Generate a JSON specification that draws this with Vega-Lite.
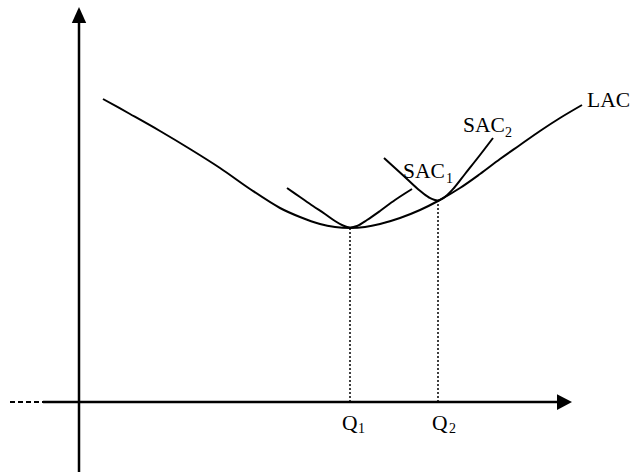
{
  "$schema": "https://vega.github.io/schema/vega-lite/v6.json",
  "width": 631,
  "height": 472,
  "padding": 0,
  "autosize": {"type": "none"},
  "background": "white",
  "config": {"view": {"stroke": null}},
  "datasets": {
    "curves": [
      {"curve": "LAC", "x": 24, "y": 303}, {"curve": "LAC", "x": 51, "y": 288}, {"curve": "LAC", "x": 81, "y": 271},
      {"curve": "LAC", "x": 111, "y": 253}, {"curve": "LAC", "x": 141, "y": 234}, {"curve": "LAC", "x": 171, "y": 213},
      {"curve": "LAC", "x": 201, "y": 194}, {"curve": "LAC", "x": 221, "y": 185}, {"curve": "LAC", "x": 241, "y": 178},
      {"curve": "LAC", "x": 256, "y": 175}, {"curve": "LAC", "x": 271, "y": 174}, {"curve": "LAC", "x": 286, "y": 175},
      {"curve": "LAC", "x": 301, "y": 178}, {"curve": "LAC", "x": 321, "y": 184}, {"curve": "LAC", "x": 341, "y": 192},
      {"curve": "LAC", "x": 359, "y": 201}, {"curve": "LAC", "x": 381, "y": 214}, {"curve": "LAC", "x": 401, "y": 228},
      {"curve": "LAC", "x": 421, "y": 243}, {"curve": "LAC", "x": 441, "y": 257}, {"curve": "LAC", "x": 461, "y": 271},
      {"curve": "LAC", "x": 481, "y": 284}, {"curve": "LAC", "x": 503, "y": 297},
      {"curve": "SAC1", "x": 208, "y": 214}, {"curve": "SAC1", "x": 221, "y": 205}, {"curve": "SAC1", "x": 234, "y": 196},
      {"curve": "SAC1", "x": 246, "y": 188}, {"curve": "SAC1", "x": 256, "y": 181}, {"curve": "SAC1", "x": 264, "y": 176.5},
      {"curve": "SAC1", "x": 271, "y": 174.5}, {"curve": "SAC1", "x": 278, "y": 176}, {"curve": "SAC1", "x": 288, "y": 182},
      {"curve": "SAC1", "x": 301, "y": 191}, {"curve": "SAC1", "x": 316, "y": 202}, {"curve": "SAC1", "x": 333, "y": 213},
      {"curve": "SAC2", "x": 305, "y": 244}, {"curve": "SAC2", "x": 316, "y": 234}, {"curve": "SAC2", "x": 328, "y": 223},
      {"curve": "SAC2", "x": 340, "y": 212}, {"curve": "SAC2", "x": 350, "y": 204.5}, {"curve": "SAC2", "x": 359, "y": 201.5},
      {"curve": "SAC2", "x": 367, "y": 206}, {"curve": "SAC2", "x": 375, "y": 214}, {"curve": "SAC2", "x": 386, "y": 228},
      {"curve": "SAC2", "x": 401, "y": 247}, {"curve": "SAC2", "x": 414, "y": 264}
    ],
    "axes": [
      {"seg": "y", "x": 0, "y": -70}, {"seg": "y", "x": 0, "y": 380},
      {"seg": "x", "x": -36, "y": 0}, {"seg": "x", "x": 480, "y": 0}
    ],
    "dashaxis": [
      {"seg": "xd", "x": -69, "y": 0}, {"seg": "xd", "x": -36, "y": 0}
    ],
    "arrows": [
      {"dir": "up", "x": 0, "y": 387},
      {"dir": "right", "x": 485.5, "y": 0}
    ],
    "drops": [
      {"q": "Q1", "x": 271, "y": 0, "y2": 174},
      {"q": "Q2", "x": 359, "y": 0, "y2": 201}
    ],
    "labels": [
      {"t": "LAC", "x": 508, "y": 295},
      {"t": "SAC", "x": 384, "y": 270},
      {"t": "SAC", "x": 324, "y": 224},
      {"t": "Q", "x": 263, "y": -28},
      {"t": "Q", "x": 353, "y": -28}
    ],
    "subs": [
      {"t": "2", "x": 426, "y": 265},
      {"t": "1", "x": 367, "y": 219},
      {"t": "1", "x": 279, "y": -31},
      {"t": "2", "x": 370, "y": -31}
    ]
  },
  "encoding": {
    "x": {"field": "x", "type": "quantitative", "scale": {"domain": [-79, 552], "nice": false, "zero": false}, "axis": null},
    "y": {"field": "y", "type": "quantitative", "scale": {"domain": [-70, 402], "nice": false, "zero": false}, "axis": null}
  },
  "layer": [
    {
      "data": {"name": "axes"},
      "mark": {"type": "line", "color": "black", "strokeWidth": 2.5},
      "encoding": {"detail": {"field": "seg"}}
    },
    {
      "data": {"name": "dashaxis"},
      "mark": {"type": "line", "color": "black", "strokeWidth": 2, "strokeDash": [5, 3]},
      "encoding": {"detail": {"field": "seg"}}
    },
    {
      "data": {"name": "arrows"},
      "transform": [{"filter": "datum.dir === 'up'"}],
      "mark": {"type": "point", "shape": "M0,-1L0.9,1L-0.9,1Z", "filled": true, "color": "black", "opacity": 1, "size": 256}
    },
    {
      "data": {"name": "arrows"},
      "transform": [{"filter": "datum.dir === 'right'"}],
      "mark": {"type": "point", "shape": "M1,0L-1,1.05L-1,-1.05Z", "filled": true, "color": "black", "opacity": 1, "size": 225}
    },
    {
      "data": {"name": "curves"},
      "mark": {"type": "line", "color": "black", "strokeWidth": 2, "interpolate": "catmull-rom"},
      "encoding": {"detail": {"field": "curve"}}
    },
    {
      "data": {"name": "drops"},
      "mark": {"type": "rule", "color": "black", "strokeWidth": 1.5, "strokeDash": [2, 2]},
      "encoding": {"y2": {"field": "y2"}}
    },
    {
      "data": {"name": "labels"},
      "mark": {"type": "text", "font": "Liberation Serif", "fontSize": 21.5, "align": "left", "baseline": "alphabetic", "color": "black"},
      "encoding": {"text": {"field": "t"}}
    },
    {
      "data": {"name": "subs"},
      "mark": {"type": "text", "font": "Liberation Serif", "fontSize": 14, "align": "left", "baseline": "alphabetic", "color": "black"},
      "encoding": {"text": {"field": "t"}}
    }
  ]
}
